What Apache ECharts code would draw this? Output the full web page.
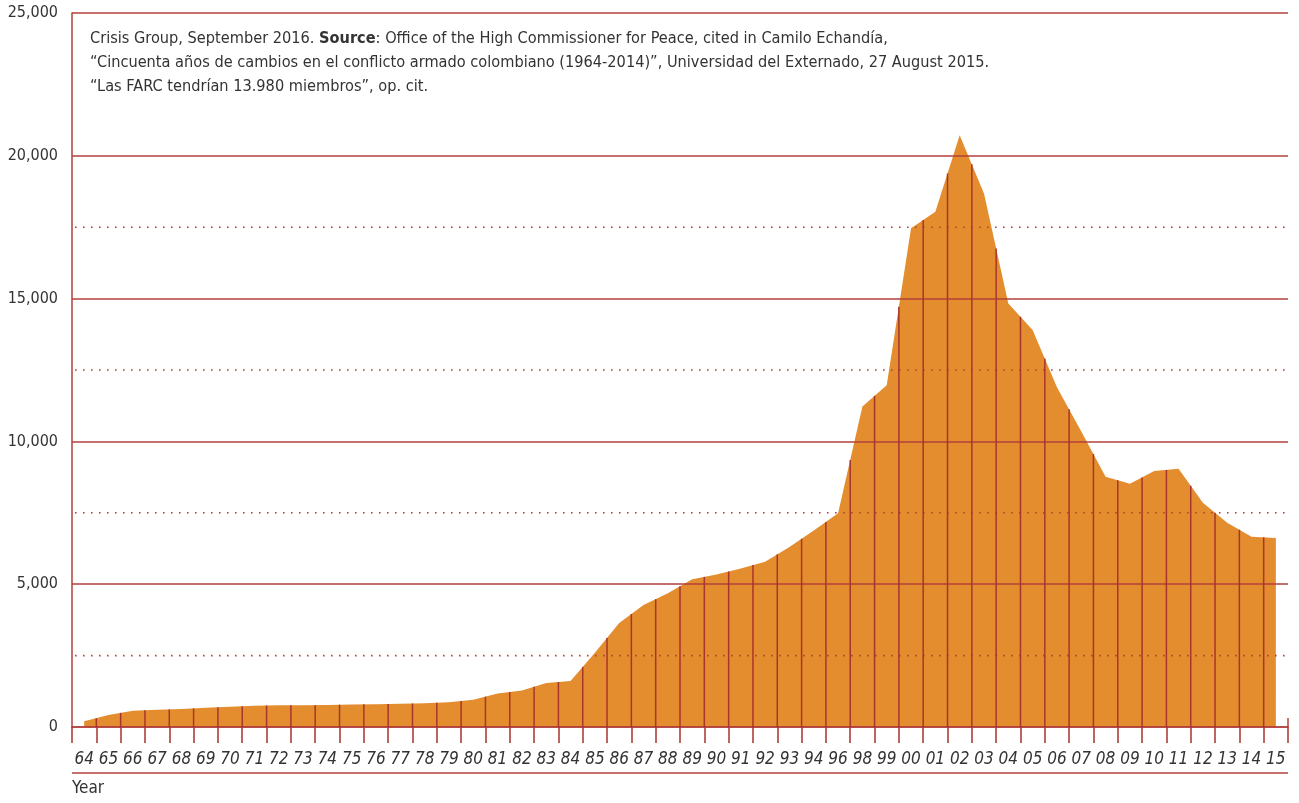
<!DOCTYPE html>
<html>
<head>
<meta charset="utf-8">
<script src="https://cdn.jsdelivr.net/npm/echarts@6/dist/echarts.min.js"></script>
<style>
html,body{margin:0;padding:0;background:#fff;}
#chart{width:1299px;height:803px;}
</style>
</head>
<body>
<div id="chart"></div>
<script>
var years = ['64','65','66','67','68','69','70','71','72','73','74','75','76','77','78','79','80','81','82','83','84','85','86','87','88','89','90','91','92','93','94','96','98','99','00','01','02','03','04','05','06','07','08','09','10','11','12','13','14','15'];
var members = [200,420,570,600,630,670,710,745,760,760,770,790,800,815,830,870,950,1170,1280,1540,1610,2600,3640,4270,4680,5170,5340,5550,5790,6300,6880,7480,11220,11970,17460,18040,20720,18680,14830,13900,11900,10350,8760,8520,8960,9040,7850,7150,6660,6620];
var yTicks = [0,5000,10000,15000,20000,25000];
var dottedLevels = [2500,7500,12500,17500];
var noteLines = [
  ['Crisis Group, September 2016. ', 'Source', ': Office of the High Commissioner for Peace, cited in Camilo Echandía,'],
  ['“Cincuenta años de cambios en el conflicto armado colombiano (1964-2014)”, Universidad del Externado, 27 August 2015.'],
  ['“Las FARC tendrían 13.980 miembros”, op. cit.']
];

var FONT = "'DejaVu Sans Condensed','Liberation Sans',sans-serif";
var RED = '#b3403c';
var VRED = '#a8352d';
var ORANGE = '#e38d2e';
var TXT = '#333333';

var boundaryData = members.slice(0, -1).map(function (v, i) { return [i, v, members[i + 1]]; });

var noteText = noteLines.map(function (parts) {
  if (parts.length === 3) return '{a|' + parts[0] + '}{b|' + parts[1] + '}{a|' + parts[2] + '}';
  return '{a|' + parts[0] + '}';
}).join('\n');

var chart = echarts.init(document.getElementById('chart'));
chart.setOption({
  animation: false,
  grid: {left: 72, right: 11, top: 13, bottom: 76, containLabel: false, outerBoundsMode: 'none'},
  xAxis: {
    type: 'category',
    data: years,
    boundaryGap: true,
    z: 5,
    axisLine: {show: true, lineStyle: {color: RED, width: 1.5}},
    axisTick: {show: true, interval: 0, length: 16, lineStyle: {color: VRED, width: 1.5}},
    axisLabel: {interval: 0, margin: 24, fontFamily: FONT, fontSize: 17, fontStyle: 'italic', color: TXT},
    splitLine: {show: false}
  },
  yAxis: {
    type: 'value',
    min: yTicks[0],
    max: yTicks[yTicks.length - 1],
    interval: 5000,
    z: 5,
    axisLine: {show: true, lineStyle: {color: RED, width: 1.5}},
    axisTick: {show: false},
    axisLabel: {margin: 14, fontFamily: FONT, fontSize: 16, color: TXT,
      formatter: function (v) { return v.toLocaleString('en-US'); }},
    splitLine: {show: true, lineStyle: {color: RED, width: 1.5}}
  },
  graphic: [
    {type: 'text', left: 90, top: 31, z: 10,
      style: {text: noteText, font: '16.2px ' + FONT, fill: TXT,
        rich: {a: {fontFamily: FONT, fontSize: 16.2, lineHeight: 24, fill: TXT},
               b: {fontFamily: FONT, fontSize: 16.2, lineHeight: 24, fontWeight: 'bold', fill: TXT}}}},
    {type: 'line', z: 10, shape: {x1: 72, y1: 773, x2: 1288, y2: 773}, style: {stroke: RED, lineWidth: 1.5}},
    {type: 'text', left: 72, top: 780, z: 10, style: {text: 'Year', font: '17px ' + FONT, fill: TXT}}
  ],
  series: [
    {
      type: 'line',
      data: members,
      symbol: 'none',
      z: 2,
      lineStyle: {width: 0},
      areaStyle: {color: ORANGE, opacity: 1}
    },
    {
      type: 'custom',
      z: 6,
      data: boundaryData,
      renderItem: function (params, api) {
        var i = api.value(0);
        var cs = params.coordSys;
        var p0 = api.coord([i, api.value(1)]);
        var p1 = api.coord([i + 1, api.value(2)]);
        var base = api.coord([i, 0])[1];
        var bw = api.size([1, 0])[0];
        var mx = (p0[0] + p1[0]) / 2;
        var my = (p0[1] + p1[1]) / 2;
        var children = [{type: 'line', shape: {x1: mx, y1: base, x2: mx, y2: my},
          style: {stroke: VRED, lineWidth: 1.5}}];
        if (i === 0) {
          dottedLevels.forEach(function (lv) {
            var y = api.coord([0, lv])[1];
            children.push({type: 'line', z2: -1, shape: {x1: cs.x + 3, y1: y, x2: cs.x + cs.width, y2: y},
              style: {stroke: RED, lineWidth: 1.6, lineDash: [1.6, 6.4]}});
          });
        }
        if (i === members.length - 2) {
          var ex = p1[0] + bw / 2;
          children.push({type: 'line', shape: {x1: ex, y1: base, x2: ex, y2: base - 9},
            style: {stroke: RED, lineWidth: 1.5}});
        }
        return {type: 'group', children: children};
      }
    }
  ]
});
</script>
</body>
</html>
